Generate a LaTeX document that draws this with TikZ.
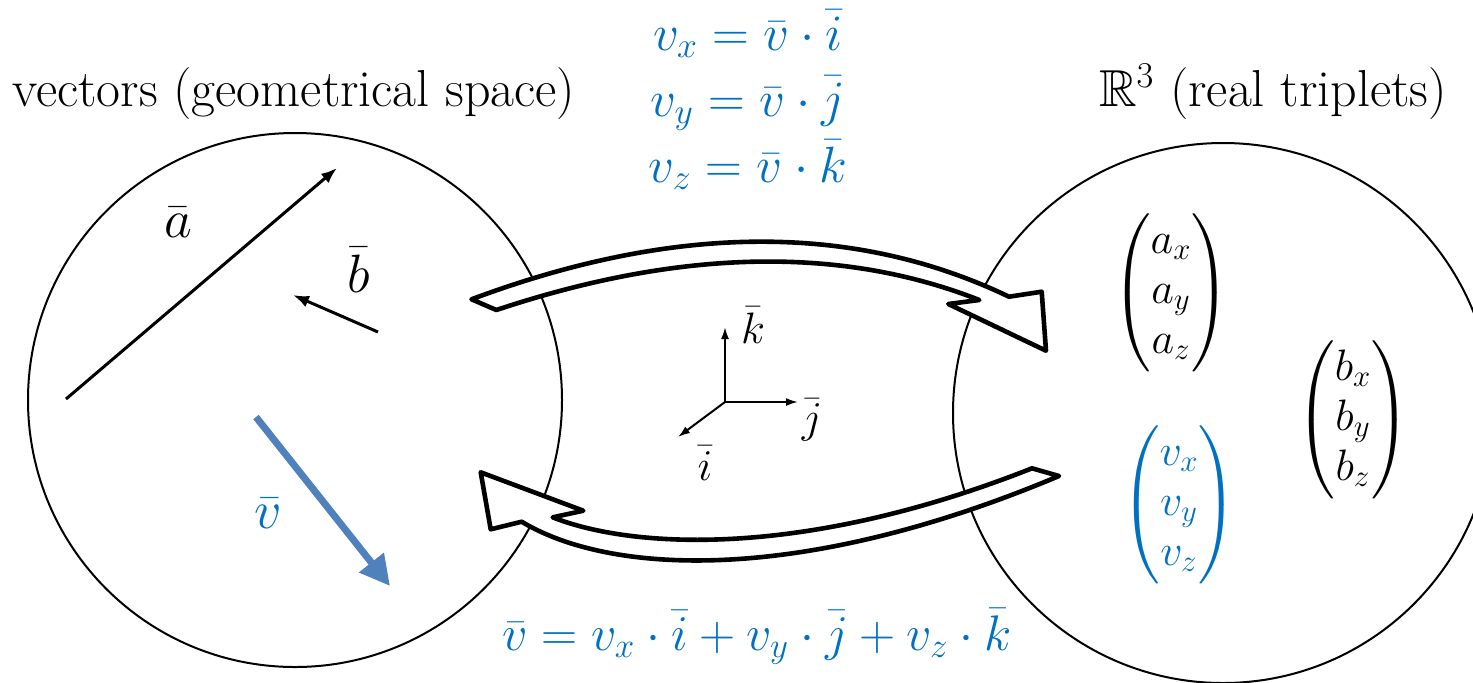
\documentclass[tikz,border=0pt]{standalone}
\usepackage{fix-cm}
\usepackage{amsmath, amssymb}
\usepackage{tikz}
\usetikzlibrary{arrows.meta}
\definecolor{txtblue}{RGB}{0, 112, 192}
\definecolor{vecblue}{RGB}{79, 129, 189}

\begin{document}
\begin{tikzpicture}[x=0.5pt,y=-0.5pt,
          lbl/.style={inner sep=0pt,font=\fontsize{22}{25}\selectfont},
          biglbl/.style={inner sep=0pt,font=\fontsize{27}{30}\selectfont},
          eq/.style={inner sep=0pt,anchor=base,text=txtblue,font=\fontsize{25.5}{30}\selectfont},
          ttl/.style={inner sep=0pt,anchor=base west,font=\fontsize{26}{30}\selectfont},
          space/.style={draw,line width=1pt},
          hollow/.style={draw,line width=2.3pt,line join=round,fill=white},
          vec/.style={line width=1.5pt,-{Latex[length=8pt,width=6pt]}},
          axis/.style={line width=1pt,-{Latex[length=6pt,width=4pt]}}]
        \useasboundingbox (0,0) rectangle (1473,682);
        \clip (0,0) rectangle (1473,682);
        \node[ttl](geo) at (12,106){vectors (geometrical space)};
        \node[ttl,anchor=base east](real) at (1447,106){$\mathbb{R}^3$ (real triplets)};
        \coordinate (geoc) at (295,400);
        \coordinate (realc) at (1223,413);
        \draw[space](geoc) circle[radius=267];
        \draw[space](realc) circle[radius=270];
        \coordinate (a0) at (66,399);
        \coordinate (a1) at (337,168);
        \coordinate (b0) at (378,332);
        \coordinate (b1) at (293,295);
        \coordinate (v0) at (256,417);
        \coordinate (v1) at (390,586);
        \draw[vec](a0)--(a1);
        \draw[vec](b0)--(b1);
        \draw[line width=3.5pt,vecblue,-{Triangle[length=15pt,width=15pt]}](v0)--(v1);
        \node[biglbl](alab) at (178,222){$\bar{a}$};
        \node[biglbl](blab) at (359,270){$\bar{b}$};
        \node[biglbl,txtblue](vlab) at (268,513){$\bar{v}$};
        \node[eq](vx) at (748,50){$v_x=\bar{v}\cdot\bar{i}$};
        \node[eq](vy) at (748,116){$v_y=\bar{v}\cdot\bar{j}$};
        \node[eq](vz) at (748,182){$v_z=\bar{v}\cdot\bar{k}$};
        \draw[hollow](471.5,299.3) .. controls (675,223.3) and (854.2,222.5) .. (1009,296.7)
          --(1041.7,291.7)--(1046,350.7)--(948.3,304)--(979.3,300)
          .. controls (840.8,245.6) and (679.8,248.9) .. (496.4,310)--cycle;
        \draw[hollow](1032,468.3)--(1059,476) .. controls (800,585) and (610,575) .. (521.7,521.7)
          --(490.7,529.3)--(480.7,472.3)--(583.3,510.7)--(552.7,517.3)
          .. controls (630,548) and (800,560) .. (1032,468.3)--cycle;
        \coordinate (o) at (725,402);
        \coordinate (kt) at (725,327);
        \coordinate (jt) at (798,402);
        \coordinate (it) at (678,437);
        \draw[axis](o)--(kt);
        \draw[axis](o)--(jt);
        \draw[axis](o)--(it);
        \node[lbl](klab) at (753,325){$\bar{k}$};
        \node[lbl](jlab) at (812,420){$\bar{j}$};
        \node[lbl](ilab) at (705,463){$\bar{i}$};
        \node[lbl](amat) at (1171,293){$\begin{pmatrix}a_x\\a_y\\a_z\end{pmatrix}$};
        \node[lbl](bmat) at (1353,420){$\begin{pmatrix}b_x\\b_y\\b_z\end{pmatrix}$};
        \node[lbl,txtblue](vmat) at (1179,505){$\begin{pmatrix}v_x\\v_y\\v_z\end{pmatrix}$};
        \node[eq,font=\fontsize{25}{30}\selectfont](sum) at (757,650)
          {$\bar{v}=v_x\cdot\bar{i}+v_y\cdot\bar{j}+v_z\cdot\bar{k}$};
      \end{tikzpicture}
\end{document}
